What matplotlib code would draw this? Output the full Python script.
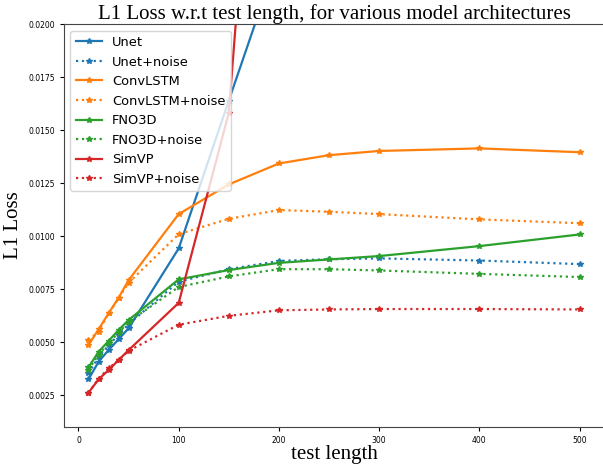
import matplotlib.pyplot as plt

# comprimentos de teste
test_len = [10, 20, 30, 40, 50, 100, 150, 200, 250, 300, 400, 500]

# L1 loss por arquitetura
unet = [0.00324, 0.00407, 0.00462, 0.00513, 0.00565, 0.00942, 0.0164, 0.0233]
unet_noise = [0.00352, 0.00430, 0.00484, 0.00535, 0.00585, 0.00785, 0.00844, 0.00883,
              0.00891, 0.00895, 0.00885, 0.00868]
convlstm = [0.00486, 0.00560, 0.00635, 0.00709, 0.00792, 0.01104, 0.01244, 0.01343,
            0.01382, 0.01402, 0.01414, 0.01396]
convlstm_noise = [0.00509, 0.00549, 0.00635, 0.00706, 0.00780, 0.01009, 0.01082, 0.01123,
                  0.01115, 0.01104, 0.01079, 0.01061]
fno3d = [0.00381, 0.00454, 0.00505, 0.00557, 0.00604, 0.00796, 0.00840, 0.00874,
         0.00890, 0.00906, 0.00953, 0.01008]
fno3d_noise = [0.00370, 0.00440, 0.00494, 0.00545, 0.00595, 0.00760, 0.00810, 0.00844,
               0.00844, 0.00838, 0.00822, 0.00807]
simvp = [0.00261, 0.00324, 0.00368, 0.00415, 0.00462, 0.00685, 0.01582, 0.0463]
simvp_noise = [0.00261, 0.00326, 0.00376, 0.00415, 0.00459, 0.00582, 0.00624, 0.00650,
               0.00654, 0.00656, 0.00656, 0.00654]

series = [
    ('Unet', unet, 'tab:blue', '-'),
    ('Unet+noise', unet_noise, 'tab:blue', ':'),
    ('ConvLSTM', convlstm, 'tab:orange', '-'),
    ('ConvLSTM+noise', convlstm_noise, 'tab:orange', ':'),
    ('FNO3D', fno3d, 'tab:green', '-'),
    ('FNO3D+noise', fno3d_noise, 'tab:green', ':'),
    ('SimVP', simvp, 'tab:red', '-'),
    ('SimVP+noise', simvp_noise, 'tab:red', ':'),
]

fig = plt.figure(figsize=(6.03, 4.66), dpi=100)
ax = fig.add_axes([0.106, 0.084, 0.896, 0.864])

for nome, vals, cor, estilo in series:
    ax.plot(test_len[:len(vals)], vals, color=cor, linestyle=estilo, marker='*',
            markersize=4, linewidth=1.6, label=nome)

ax.set_ylim(0.001, 0.02)
ax.set_xlim(-14.5, 524.5)
ax.set_title('L1 Loss w.r.t test length, for various model architectures',
             family='Liberation Serif', fontsize=15, pad=2)
ax.set_xlabel('test length', family='Liberation Serif', fontsize=15, labelpad=0)
ax.set_ylabel('L1 Loss', family='Liberation Serif', fontsize=15)
ax.tick_params(labelsize=5.5, length=3, width=0.8)
for s in ax.spines.values():
    s.set_color('#444444')
ax.legend(loc='upper left', fontsize=9.4)

plt.savefig('out.png', dpi=100)
